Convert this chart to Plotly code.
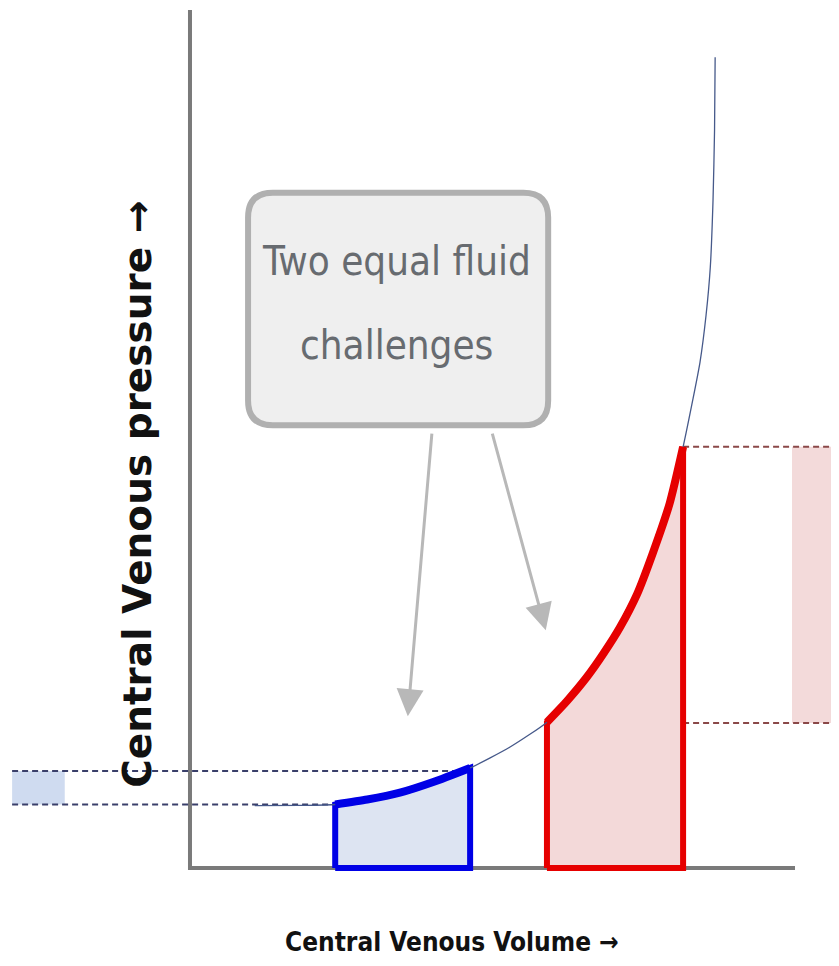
import plotly.graph_objects as go

# Pressure–volume curve (arbitrary units, volume 0..100, pressure 0..100)
volume = [10.7, 18.2, 24.0, 29.3, 34.7, 40.2, 46.3, 52.9, 59.0, 62.3, 65.6, 68.4, 71.1,
          73.9, 76.5, 79.3, 81.5, 83.1, 84.3, 85.3, 86.0, 86.45, 86.7, 86.8]
pressure = [7.28, 7.30, 7.40, 7.98, 8.78, 10.02, 11.66, 14.1, 17.0, 19.46, 22.26, 25.06,
            28.09, 31.93, 36.71, 42.54, 49.07, 54.55, 58.97, 64.45, 70.05, 77.86, 86.0, 94.5]

# Two equal fluid challenges (volume interval)
challenge_low = [24.0, 46.3]
challenge_high = [59.0, 81.5]

# Resulting pressure ranges
low_p = [7.4, 11.3]
high_p = [16.9, 49.1]

x_title = "Central Venous Volume \u2192"
y_title = "Central Venous pressure \u2192"
box_lines = ["Two equal fluid", "challenges"]

XR = [-30.08, 107.27]
YR = [-11.42, 100.23]

NARROW = "DejaVu Sans Condensed, Liberation Sans Narrow, Arial Narrow, sans-serif"


def segment(lo, hi):
    xs = [v for v in volume if lo - 1e-9 <= v <= hi + 1e-9]
    ys = [p for v, p in zip(volume, pressure) if lo - 1e-9 <= v <= hi + 1e-9]
    return xs, ys


fig = go.Figure()

# shaded pressure ranges
fig.add_shape(type="rect", x0=-29.4, x1=-20.7, y0=low_p[0], y1=low_p[1],
              fillcolor="#cfdbf0", line_width=0, layer="below")
fig.add_shape(type="rect", x0=99.5, x1=107.3, y0=high_p[0], y1=high_p[1],
              fillcolor="#f3dada", line_width=0, layer="below")

# axes lines
fig.add_trace(go.Scatter(x=[0, 0, 100], y=[100, 0, 0], mode="lines",
                         line=dict(color="#7a7a7a", width=4), hoverinfo="skip",
                         showlegend=False))

# dashed reference lines
for yv in low_p:
    fig.add_trace(go.Scatter(x=[-29.4, challenge_low[1]], y=[yv, yv], mode="lines",
                             line=dict(color="#3a3f6a", width=2, dash="6px,4px"),
                             hoverinfo="skip", showlegend=False))
for yv in high_p:
    fig.add_trace(go.Scatter(x=[challenge_high[1], 107.3], y=[yv, yv], mode="lines",
                             line=dict(color="#8a4848", width=2, dash="6px,4px"),
                             hoverinfo="skip", showlegend=False))

# boxes
for (lo, hi), lc, fc in [(challenge_low, "#0000e6", "#dde4f2"),
                         (challenge_high, "#e60000", "#f3d9d9")]:
    xs, ys = segment(lo, hi)
    px = [lo] + xs + [hi, lo, lo]
    py = [0] + ys + [0, 0, 0]
    fig.add_trace(go.Scatter(x=px, y=py, mode="lines", fill="toself", fillcolor=fc,
                             line=dict(color=lc, width=6), hoverinfo="skip",
                             showlegend=False))

# thin curve
fig.add_trace(go.Scatter(x=volume, y=pressure, mode="lines", line_shape="spline",
                         line=dict(color="#46598a", width=1.3, smoothing=0.6),
                         hoverinfo="skip", showlegend=False))

# thick curve segments
for (lo, hi), lc in [(challenge_low, "#0000e6"), (challenge_high, "#e60000")]:
    xs, ys = segment(lo, hi)
    fig.add_trace(go.Scatter(x=xs, y=ys, mode="lines", line_shape="spline",
                             line=dict(color=lc, width=8, smoothing=0.6),
                             hoverinfo="skip", showlegend=False))

# rounded box
x0, x1, y0, y1 = 9.6, 59.2, 51.6, 78.7
rx, ry = 4.1, 2.9
path = (f"M {x0+rx},{y1} L {x1-rx},{y1} Q {x1},{y1} {x1},{y1-ry} "
        f"L {x1},{y0+ry} Q {x1},{y0} {x1-rx},{y0} L {x0+rx},{y0} "
        f"Q {x0},{y0} {x0},{y0+ry} L {x0},{y1-ry} Q {x0},{y1} {x0+rx},{y1} Z")
fig.add_shape(type="path", path=path, fillcolor="#efefef",
              line=dict(color="#b0b0b0", width=6))

for txt, yy in zip(box_lines, [70.7, 61.0]):
    fig.add_annotation(x=34.2, y=yy, text=txt, showarrow=False,
                       font=dict(family=NARROW, size=40, color="#676b70"))

# arrows
for (sx, sy, ex, ey) in [(40.0, 50.8, 36.0, 17.7), (49.9, 50.8, 58.8, 27.7)]:
    fig.add_annotation(x=ex, y=ey, ax=sx, ay=sy, xref="x", yref="y", axref="x", ayref="y",
                       showarrow=True, arrowhead=2, arrowsize=1.8, arrowwidth=3,
                       arrowcolor="#b8b8b8", text="")

# axis titles
fig.add_annotation(x=-8.6, y=43.6, text="<b>" + y_title + "</b>", textangle=-90,
                   showarrow=False,
                   font=dict(family="DejaVu Sans, sans-serif", size=39, color="#111111"))
fig.add_annotation(x=43.3, y=-8.6, text="<b>" + x_title + "</b>", showarrow=False,
                   font=dict(family=NARROW, size=26, color="#111111"))

fig.update_layout(width=831, height=958, margin=dict(l=0, r=0, t=0, b=0),
                  plot_bgcolor="white", paper_bgcolor="white",
                  xaxis=dict(range=XR, visible=False, fixedrange=True),
                  yaxis=dict(range=YR, visible=False, fixedrange=True))

fig.write_html("out.html")
